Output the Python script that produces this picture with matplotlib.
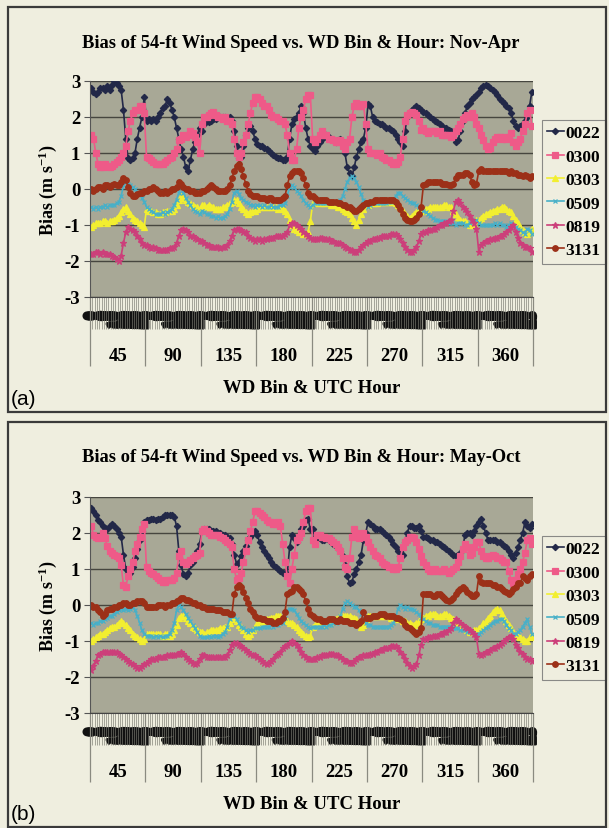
import matplotlib
matplotlib.use('Agg')
import matplotlib.pyplot as plt
import matplotlib.transforms as mtransforms
import matplotlib.patheffects as pe
from matplotlib.patches import Rectangle

plt.rcParams.update({
    'font.family': 'serif',
    'font.serif': ['Liberation Serif', 'DejaVu Serif'],
    'font.weight': 'bold',
    'axes.labelweight': 'bold',
    'axes.unicode_minus': False,
    'mathtext.fontset': 'custom',
    'mathtext.rm': 'Liberation Serif:bold',
    'mathtext.default': 'rm',
})

W, H = 609, 829
PAGE = '#efeedf'
PLOT_BG = '#a8a896'
GRID = '#46463f'
FRAME = '#3a3a3a'

WD_BINS = [45, 90, 135, 180, 225, 270, 315, 360]
HOURS = list(range(24))
SERIES = ['0022', '0300', '0303', '0509', '0819', '3131']
COLORS = ['#222848', '#ee5a88', '#f2ee30', '#48b0c8', '#cc3f7a', '#9c3018']
MARKERS = ['D', 's', '^', 'x', '*', 'o']
MSIZES = [3.2, 4.0, 4.0, 3.5, 5.0, 4.0]

# ---- Nov-Apr (panel a), 8 WD bins x 24 hours ----
nov_0022 = [
    2.8, 2.7, 2.65, 2.7, 2.8, 2.8, 2.75, 2.85, 2.75, 2.9, 3.0, 2.95, 2.85, 2.75, 2.2, 1.4, 0.85, 0.8, 0.85, 1.0, 1.4, 1.7, 2.0, 2.55,
    1.9, 1.95, 1.9, 1.95, 1.9, 2.0, 2.1, 2.25, 2.3, 2.5, 2.4, 2.2, 2.0, 1.7, 1.4, 1.1, 0.9, 0.6, 0.5, 0.8, 1.1, 1.3, 1.5, 1.7,
    1.6, 1.8, 1.9, 1.85, 1.9, 1.95, 1.95, 2.0, 2.0, 2.0, 2.0, 1.95, 2.0, 1.9, 1.6, 1.2, 0.85, 0.9, 1.2, 1.5, 1.7, 1.75, 1.6, 1.4,
    1.25, 1.2, 1.2, 1.15, 1.1, 1.05, 1.0, 0.95, 0.9, 0.85, 0.85, 0.8, 0.8, 0.9, 1.4, 1.8, 1.95, 2.0, 2.1, 2.3, 2.1, 1.7, 1.4, 1.2,
    1.1, 1.05, 1.2, 1.3, 1.4, 1.45, 1.5, 1.45, 1.4, 1.35, 1.3, 1.35, 1.4, 1.3, 1.0, 0.6, 0.45, 0.35, 0.6, 0.9, 1.1, 1.3, 1.4, 1.7,
    2.35, 2.3, 2.0, 1.9, 1.85, 1.8, 1.8, 1.75, 1.7, 1.7, 1.65, 1.6, 1.5, 1.4, 1.3, 1.2, 1.6, 2.0, 2.15, 2.2, 2.25, 2.3, 2.25, 2.2,
    2.15, 2.1, 2.05, 2.0, 1.95, 1.9, 1.85, 1.8, 1.75, 1.7, 1.7, 1.65, 1.6, 1.45, 1.3, 1.35, 1.6, 1.9, 2.1, 2.3, 2.4, 2.5, 2.55, 2.6,
    2.7, 2.8, 2.85, 2.9, 2.85, 2.8, 2.75, 2.7, 2.6, 2.5, 2.45, 2.4, 2.3, 2.25, 2.1, 1.9, 1.75, 1.7, 1.75, 1.8, 1.9, 2.0, 2.3, 2.7,
]
nov_0300 = [
    1.5, 1.4, 1.0, 0.7, 0.6, 0.6, 0.7, 0.65, 0.6, 0.65, 0.7, 0.75, 0.8, 0.9, 1.0, 1.2, 1.6, 1.9, 2.1, 2.2, 2.2, 2.3, 2.3, 2.1,
    0.9, 0.85, 0.8, 0.75, 0.7, 0.7, 0.7, 0.7, 0.75, 0.8, 0.85, 0.9, 1.0, 1.1, 1.35, 1.4, 1.5, 1.45, 1.5, 1.6, 1.55, 1.45, 1.3, 1.0,
    1.8, 2.0, 2.0, 2.05, 2.1, 2.15, 2.05, 2.0, 2.0, 1.95, 2.0, 1.9, 1.9, 1.8, 1.4, 1.0, 0.9, 1.0, 1.3, 1.5, 1.8, 2.1, 2.4, 2.55,
    2.55, 2.5, 2.4, 2.3, 2.3, 2.2, 2.05, 2.0, 2.0, 1.95, 1.9, 1.9, 1.8, 1.5, 1.0, 0.8, 0.8, 1.1, 1.7, 2.0, 2.2, 2.5, 2.6, 2.6,
    1.4, 1.3, 1.4, 1.5, 1.6, 1.5, 1.5, 1.4, 1.4, 1.35, 1.3, 1.3, 1.35, 1.2, 1.1, 1.3, 1.4, 2.0, 2.3, 2.4, 2.3, 2.3, 2.35, 1.8,
    1.1, 1.0, 1.0, 1.0, 0.95, 1.0, 0.9, 0.85, 0.8, 0.8, 0.75, 0.7, 0.7, 0.75, 0.9, 1.4, 1.9, 2.05, 2.1, 2.15, 2.1, 2.05, 1.9, 1.65,
    1.7, 1.6, 1.55, 1.6, 1.6, 1.6, 1.55, 1.6, 1.5, 1.5, 1.5, 1.5, 1.45, 1.5, 1.6, 1.7, 1.8, 1.95, 2.0, 2.05, 2.0, 2.1, 2.0, 1.8,
    1.7, 1.5, 1.35, 1.2, 1.1, 1.15, 1.3, 1.4, 1.45, 1.45, 1.4, 1.45, 1.4, 1.45, 1.55, 1.3, 1.2, 1.3, 1.4, 1.6, 1.8, 2.1, 2.2, 1.75,
]
nov_0303 = [
    -1.05, -1.0, -0.95, -0.95, -0.95, -0.9, -0.9, -0.95, -0.9, -0.9, -0.85, -0.8, -0.75, -0.65, -0.55, -0.5, -0.6, -0.7, -0.8, -0.85, -0.9, -0.95, -1.0, -1.05,
    -0.55, -0.6, -0.6, -0.65, -0.65, -0.7, -0.7, -0.65, -0.65, -0.6, -0.6, -0.6, -0.55, -0.45, -0.3, -0.2, -0.25, -0.3, -0.35, -0.4, -0.45, -0.5, -0.5, -0.55,
    -0.45, -0.45, -0.5, -0.45, -0.5, -0.5, -0.55, -0.55, -0.55, -0.5, -0.5, -0.45, -0.4, -0.35, -0.3, -0.3, -0.4, -0.5, -0.55, -0.65, -0.7, -0.65, -0.6, -0.6,
    -0.55, -0.5, -0.5, -0.5, -0.5, -0.5, -0.5, -0.5, -0.5, -0.55, -0.5, -0.55, -0.6, -0.7, -0.85, -1.0, -1.1, -1.15, -1.2, -1.2, -1.25, -1.25, -1.2, -0.9,
    -0.4, -0.4, -0.35, -0.4, -0.4, -0.4, -0.4, -0.4, -0.45, -0.45, -0.45, -0.5, -0.5, -0.55, -0.6, -0.65, -0.7, -0.8, -0.9, -1.0, -0.85, -0.7, -0.55, -0.45,
    -0.45, -0.4, -0.4, -0.4, -0.4, -0.35, -0.35, -0.35, -0.35, -0.35, -0.35, -0.35, -0.4, -0.45, -0.5, -0.6, -0.7, -0.75, -0.8, -0.75, -0.7, -0.65, -0.6, -0.6,
    -0.6, -0.55, -0.55, -0.5, -0.5, -0.5, -0.5, -0.5, -0.5, -0.45, -0.45, -0.5, -0.5, -0.6, -0.7, -0.8, -0.85, -0.9, -0.9, -0.95, -1.0, -1.0, -0.95, -0.85,
    -0.85, -0.8, -0.75, -0.7, -0.7, -0.65, -0.6, -0.6, -0.55, -0.55, -0.5, -0.5, -0.55, -0.6, -0.65, -0.75, -0.85, -0.95, -1.05, -1.15, -1.2, -1.25, -1.2, -1.1,
]
nov_0509 = [
    -0.5, -0.55, -0.5, -0.55, -0.5, -0.5, -0.45, -0.5, -0.45, -0.45, -0.45, -0.4, -0.35, -0.2, 0.1, 0.2, 0.15, 0.1, 0.05, 0.0, -0.1, -0.15, -0.25, -0.35,
    -0.5, -0.55, -0.6, -0.65, -0.7, -0.7, -0.7, -0.65, -0.7, -0.65, -0.6, -0.55, -0.45, -0.3, -0.1, 0.1, -0.1, -0.25, -0.35, -0.45, -0.55, -0.6, -0.65, -0.7,
    -0.6, -0.65, -0.7, -0.7, -0.75, -0.75, -0.8, -0.75, -0.8, -0.8, -0.75, -0.7, -0.55, -0.35, -0.1, -0.05, -0.15, -0.25, -0.3, -0.35, -0.4, -0.45, -0.45, -0.5,
    -0.45, -0.45, -0.5, -0.45, -0.5, -0.5, -0.45, -0.5, -0.5, -0.5, -0.45, -0.45, -0.4, -0.2, 0.05, 0.1, 0.05, -0.05, -0.1, -0.2, -0.3, -0.4, -0.45, -0.5,
    -0.45, -0.4, -0.4, -0.4, -0.4, -0.4, -0.4, -0.4, -0.4, -0.4, -0.35, -0.35, -0.3, -0.2, 0.0, 0.2, 0.3, 0.35, 0.3, 0.2, 0.05, -0.15, -0.3, -0.4,
    -0.5, -0.45, -0.4, -0.4, -0.4, -0.4, -0.4, -0.4, -0.4, -0.35, -0.35, -0.3, -0.2, -0.1, -0.1, -0.2, -0.25, -0.3, -0.35, -0.4, -0.4, -0.45, -0.5, -0.55,
    -0.6, -0.65, -0.7, -0.75, -0.8, -0.85, -0.85, -0.9, -0.9, -0.9, -0.9, -0.95, -0.95, -0.95, -1.0, -0.95, -0.95, -0.95, -1.0, -1.0, -0.95, -0.9, -0.9, -0.85,
    -0.95, -1.0, -1.0, -1.0, -1.0, -1.0, -1.0, -0.95, -1.0, -0.95, -1.0, -1.0, -1.05, -1.0, -0.95, -1.0, -1.05, -1.1, -1.15, -1.2, -1.25, -1.1, -1.15, -1.25,
]
nov_0819 = [
    -1.8, -1.8, -1.75, -1.75, -1.8, -1.75, -1.8, -1.8, -1.8, -1.85, -1.9, -1.95, -2.0, -1.85, -1.5, -1.2, -1.05, -1.1, -1.15, -1.2, -1.3, -1.4, -1.5, -1.55,
    -1.55, -1.6, -1.65, -1.6, -1.65, -1.7, -1.7, -1.7, -1.7, -1.7, -1.65, -1.65, -1.6, -1.5, -1.3, -1.15, -1.1, -1.15, -1.2, -1.3, -1.3, -1.35, -1.4, -1.45,
    -1.45, -1.5, -1.55, -1.55, -1.6, -1.6, -1.6, -1.6, -1.65, -1.6, -1.6, -1.55, -1.45, -1.3, -1.15, -1.1, -1.1, -1.15, -1.2, -1.2, -1.3, -1.35, -1.4, -1.45,
    -1.4, -1.4, -1.45, -1.4, -1.4, -1.35, -1.35, -1.35, -1.3, -1.3, -1.3, -1.3, -1.25, -1.2, -1.0, -0.95, -0.95, -1.0, -1.05, -1.1, -1.2, -1.25, -1.3, -1.35,
    -1.4, -1.4, -1.4, -1.35, -1.35, -1.4, -1.4, -1.4, -1.45, -1.45, -1.5, -1.5, -1.5, -1.55, -1.6, -1.65, -1.7, -1.7, -1.75, -1.75, -1.7, -1.6, -1.55, -1.5,
    -1.45, -1.45, -1.4, -1.4, -1.35, -1.35, -1.3, -1.3, -1.3, -1.3, -1.25, -1.25, -1.25, -1.3, -1.4, -1.5, -1.6, -1.7, -1.75, -1.75, -1.7, -1.6, -1.45, -1.25,
    -1.2, -1.2, -1.15, -1.15, -1.1, -1.1, -1.05, -1.0, -1.0, -0.95, -0.95, -0.9, -0.85, -0.6, -0.35, -0.3, -0.4, -0.5, -0.55, -0.65, -0.75, -0.85, -0.95, -1.1,
    -1.75, -1.55, -1.5, -1.45, -1.45, -1.4, -1.4, -1.35, -1.35, -1.3, -1.3, -1.25, -1.2, -1.15, -1.05, -1.0, -1.2, -1.35, -1.5, -1.55, -1.6, -1.6, -1.65, -1.75,
]
nov_3131 = [
    0.0, -0.05, 0.0, 0.05, 0.05, 0.0, 0.1, 0.1, 0.05, 0.1, 0.15, 0.1, 0.1, 0.2, 0.3, 0.25, 0.05, -0.1, -0.2, -0.2, -0.15, -0.1, -0.1, -0.05,
    -0.05, 0.0, 0.0, 0.05, 0.0, -0.05, -0.1, -0.1, -0.05, -0.1, -0.05, 0.0, 0.0, 0.05, 0.2, 0.15, 0.05, 0.0, 0.0, -0.05, -0.05, -0.1, -0.1, -0.1,
    -0.05, -0.05, 0.0, 0.05, 0.1, 0.05, 0.0, -0.05, -0.05, -0.05, -0.05, 0.0, 0.1, 0.3, 0.5, 0.65, 0.7, 0.55, 0.35, 0.15, -0.05, -0.15, -0.2, -0.2,
    -0.2, -0.25, -0.25, -0.25, -0.3, -0.25, -0.25, -0.3, -0.3, -0.3, -0.3, -0.25, -0.2, 0.1, 0.35, 0.45, 0.5, 0.5, 0.5, 0.45, 0.3, 0.1, -0.1, -0.2,
    -0.2, -0.25, -0.3, -0.3, -0.3, -0.3, -0.3, -0.35, -0.35, -0.35, -0.35, -0.4, -0.4, -0.45, -0.45, -0.5, -0.5, -0.55, -0.6, -0.6, -0.55, -0.5, -0.45, -0.4,
    -0.4, -0.35, -0.35, -0.3, -0.3, -0.3, -0.3, -0.3, -0.3, -0.3, -0.3, -0.3, -0.35, -0.45, -0.55, -0.7, -0.8, -0.85, -0.9, -0.9, -0.85, -0.8, -0.7, -0.5,
    0.1, 0.15, 0.2, 0.2, 0.2, 0.2, 0.2, 0.2, 0.15, 0.15, 0.15, 0.1, 0.1, 0.15, 0.3, 0.4, 0.4, 0.4, 0.45, 0.45, 0.4, 0.2, 0.1, 0.15,
    0.5, 0.55, 0.5, 0.5, 0.5, 0.5, 0.5, 0.5, 0.5, 0.5, 0.5, 0.5, 0.5, 0.45, 0.5, 0.45, 0.45, 0.4, 0.4, 0.35, 0.4, 0.35, 0.3, 0.35,
]

# ---- May-Oct (panel b) ----
may_0022 = [
    2.7, 2.6, 2.5, 2.35, 2.3, 2.2, 2.15, 2.1, 2.2, 2.25, 2.2, 2.1, 2.0, 1.9, 1.4, 1.0, 0.9, 0.9, 1.05, 1.3, 1.55, 1.8, 2.05, 2.3,
    2.35, 2.35, 2.4, 2.4, 2.35, 2.4, 2.4, 2.45, 2.5, 2.5, 2.5, 2.5, 2.45, 2.2, 1.5, 1.1, 0.85, 0.8, 0.9, 1.1, 1.2, 1.35, 1.5, 1.7,
    2.05, 2.1, 2.1, 2.1, 2.05, 2.05, 2.05, 2.0, 2.0, 1.95, 1.95, 1.9, 1.85, 1.7, 1.4, 1.15, 1.2, 1.35, 1.5, 1.65, 1.8, 1.9, 2.0, 2.05,
    1.95, 1.75, 1.6, 1.5, 1.4, 1.3, 1.2, 1.1, 1.05, 1.0, 0.95, 0.9, 0.9, 0.85, 1.6, 1.95, 1.85, 1.75, 1.85, 2.1, 2.2, 2.35, 2.4, 2.1,
    2.1, 1.9, 1.85, 1.85, 1.8, 1.8, 1.85, 1.8, 1.75, 1.7, 1.65, 1.6, 1.5, 1.35, 1.1, 0.8, 0.6, 0.65, 0.85, 1.0, 1.2, 1.4, 1.8, 2.0,
    2.3, 2.25, 2.2, 2.1, 2.1, 2.1, 2.05, 2.0, 1.95, 1.9, 1.8, 1.7, 1.6, 1.5, 1.35, 1.4, 1.75, 2.0, 2.2, 2.2, 2.15, 2.15, 2.2, 2.05,
    1.9, 1.9, 1.85, 1.8, 1.8, 1.75, 1.75, 1.7, 1.65, 1.6, 1.55, 1.5, 1.45, 1.4, 1.35, 1.4, 1.45, 1.55, 1.95, 2.0, 2.0, 1.95, 2.05, 2.2,
    2.3, 2.4, 2.2, 2.0, 1.8, 1.8, 1.8, 1.8, 1.75, 1.75, 1.7, 1.65, 1.6, 1.5, 1.4, 1.3, 1.45, 1.6, 1.8, 2.0, 2.3, 2.2, 2.15, 2.25,
]
may_0300 = [
    2.2, 1.95, 1.9, 1.85, 1.9, 2.0, 1.85, 1.65, 1.5, 1.45, 1.4, 1.35, 1.3, 1.1, 0.55, 0.5, 0.8, 1.0, 1.2, 1.5, 1.7, 1.9, 2.1, 2.25,
    1.05, 0.95, 0.9, 0.85, 0.8, 0.75, 0.7, 0.65, 0.65, 0.7, 0.7, 0.7, 0.75, 0.9, 1.35, 1.5, 1.2, 1.15, 1.2, 1.25, 1.3, 1.35, 1.4, 1.45,
    2.05, 2.1, 2.05, 2.0, 1.95, 1.95, 1.95, 1.95, 1.9, 1.85, 1.8, 1.75, 1.7, 1.6, 1.0, 0.7, 0.75, 0.9, 1.2, 1.5, 1.8, 2.05, 2.3, 2.6,
    2.6, 2.55, 2.5, 2.45, 2.35, 2.3, 2.3, 2.25, 2.25, 2.3, 2.2, 1.7, 1.2, 0.8, 0.6, 1.0, 1.4, 1.8, 1.9, 2.0, 2.3, 2.6, 2.7, 2.7,
    1.8, 1.7, 1.95, 1.95, 1.9, 1.9, 1.85, 1.85, 1.8, 1.75, 1.7, 1.6, 1.5, 1.3, 1.05, 1.0, 1.3, 1.9, 2.1, 2.0, 1.85, 1.9, 2.0, 1.9,
    1.75, 1.6, 1.5, 1.4, 1.35, 1.3, 1.2, 1.15, 1.1, 1.05, 1.05, 1.0, 1.0, 1.05, 1.3, 1.6, 1.75, 1.8, 1.9, 1.9, 1.85, 1.75, 1.55, 1.35,
    1.2, 1.1, 1.0, 0.95, 0.95, 1.0, 0.95, 0.95, 0.95, 1.0, 0.95, 0.9, 0.95, 1.0, 1.05, 1.2, 1.35, 1.55, 1.7, 1.6, 1.4, 1.45, 1.6, 1.75,
    1.75, 1.5, 1.35, 1.3, 1.3, 1.35, 1.4, 1.35, 1.3, 1.3, 1.25, 1.2, 1.2, 0.95, 0.7, 0.6, 0.7, 0.85, 1.0, 1.2, 1.45, 1.8, 1.85, 1.7,
]
may_0303 = [
    -1.0, -0.95, -0.9, -0.85, -0.8, -0.8, -0.75, -0.7, -0.65, -0.6, -0.6, -0.55, -0.5, -0.45, -0.5, -0.55, -0.65, -0.7, -0.8, -0.85, -0.9, -0.95, -1.0, -0.95,
    -0.8, -0.8, -0.8, -0.8, -0.8, -0.8, -0.8, -0.85, -0.8, -0.8, -0.85, -0.8, -0.7, -0.55, -0.35, -0.3, -0.3, -0.35, -0.45, -0.5, -0.6, -0.65, -0.7, -0.75,
    -0.75, -0.8, -0.75, -0.75, -0.7, -0.7, -0.7, -0.7, -0.65, -0.65, -0.6, -0.6, -0.5, -0.4, -0.35, -0.45, -0.55, -0.6, -0.7, -0.8, -0.85, -0.8, -0.7, -0.6,
    -0.5, -0.5, -0.45, -0.45, -0.4, -0.4, -0.35, -0.35, -0.3, -0.3, -0.3, -0.35, -0.4, -0.45, -0.5, -0.5, -0.55, -0.6, -0.7, -0.75, -0.8, -0.85, -0.9, -0.85,
    -0.6, -0.55, -0.5, -0.5, -0.5, -0.5, -0.5, -0.5, -0.45, -0.45, -0.4, -0.35, -0.3, -0.3, -0.3, -0.3, -0.3, -0.35, -0.35, -0.4, -0.5, -0.6, -0.55, -0.4,
    -0.3, -0.3, -0.3, -0.3, -0.3, -0.3, -0.3, -0.3, -0.3, -0.3, -0.35, -0.35, -0.35, -0.4, -0.4, -0.45, -0.45, -0.5, -0.5, -0.55, -0.55, -0.5, -0.45, -0.4,
    -0.35, -0.3, -0.3, -0.25, -0.25, -0.25, -0.3, -0.3, -0.3, -0.25, -0.25, -0.3, -0.35, -0.4, -0.45, -0.5, -0.55, -0.6, -0.65, -0.7, -0.75, -0.75, -0.7, -0.7,
    -0.65, -0.6, -0.5, -0.45, -0.35, -0.3, -0.2, -0.15, -0.1, -0.15, -0.25, -0.35, -0.45, -0.55, -0.65, -0.75, -0.8, -0.85, -0.9, -0.95, -1.0, -1.0, -0.9, -0.85,
]
may_0509 = [
    -0.5, -0.55, -0.5, -0.5, -0.45, -0.45, -0.4, -0.35, -0.3, -0.3, -0.25, -0.2, -0.15, -0.1, -0.15, -0.1, -0.15, -0.1, -0.05, -0.15, -0.3, -0.5, -0.7, -0.8,
    -0.85, -0.85, -0.85, -0.9, -0.85, -0.9, -0.85, -0.9, -0.85, -0.85, -0.8, -0.7, -0.5, -0.15, 0.0, -0.05, -0.15, -0.25, -0.35, -0.45, -0.55, -0.65, -0.75, -0.85,
    -0.9, -0.9, -0.9, -0.85, -0.9, -0.85, -0.85, -0.9, -0.85, -0.8, -0.75, -0.6, -0.4, -0.3, -0.3, -0.4, -0.5, -0.6, -0.65, -0.7, -0.75, -0.7, -0.7, -0.65,
    -0.65, -0.65, -0.6, -0.6, -0.6, -0.6, -0.55, -0.6, -0.55, -0.55, -0.5, -0.5, -0.35, -0.15, -0.1, -0.1, -0.15, -0.25, -0.35, -0.45, -0.5, -0.55, -0.6, -0.65,
    -0.6, -0.6, -0.6, -0.6, -0.6, -0.55, -0.6, -0.55, -0.55, -0.5, -0.5, -0.45, -0.3, -0.1, 0.05, 0.1, 0.05, 0.0, -0.05, -0.05, -0.15, -0.25, -0.4, -0.5,
    -0.55, -0.55, -0.6, -0.6, -0.6, -0.6, -0.6, -0.6, -0.6, -0.6, -0.55, -0.5, -0.35, -0.1, 0.0, -0.05, -0.1, -0.05, -0.1, -0.1, -0.15, -0.2, -0.25, -0.35,
    -0.4, -0.45, -0.5, -0.5, -0.55, -0.55, -0.55, -0.6, -0.6, -0.6, -0.6, -0.6, -0.6, -0.65, -0.65, -0.65, -0.7, -0.7, -0.7, -0.75, -0.75, -0.75, -0.8, -0.8,
    -0.8, -0.75, -0.7, -0.65, -0.6, -0.55, -0.5, -0.45, -0.45, -0.4, -0.4, -0.45, -0.55, -0.65, -0.7, -0.8, -0.8, -0.75, -0.7, -0.6, -0.5, -0.4, -0.6, -0.8,
]
may_0819 = [
    -1.8, -1.7, -1.55, -1.4, -1.35, -1.3, -1.3, -1.3, -1.3, -1.3, -1.3, -1.3, -1.35, -1.4, -1.45, -1.5, -1.55, -1.6, -1.65, -1.7, -1.75, -1.75, -1.7, -1.65,
    -1.6, -1.55, -1.5, -1.5, -1.5, -1.45, -1.45, -1.45, -1.45, -1.4, -1.4, -1.4, -1.4, -1.35, -1.35, -1.3, -1.35, -1.45, -1.5, -1.55, -1.6, -1.65, -1.6, -1.5,
    -1.4, -1.4, -1.45, -1.45, -1.45, -1.45, -1.45, -1.45, -1.45, -1.45, -1.45, -1.4, -1.25, -1.1, -1.05, -1.05, -1.1, -1.15, -1.2, -1.25, -1.3, -1.35, -1.4, -1.4,
    -1.45, -1.5, -1.55, -1.6, -1.65, -1.6, -1.55, -1.5, -1.4, -1.35, -1.3, -1.2, -1.15, -1.1, -1.05, -1.0, -1.05, -1.1, -1.2, -1.3, -1.4, -1.45, -1.5, -1.5,
    -1.5, -1.5, -1.45, -1.45, -1.4, -1.4, -1.4, -1.35, -1.35, -1.35, -1.4, -1.4, -1.45, -1.5, -1.55, -1.55, -1.6, -1.6, -1.55, -1.5, -1.45, -1.45, -1.4, -1.4,
    -1.4, -1.35, -1.35, -1.3, -1.3, -1.25, -1.25, -1.2, -1.2, -1.2, -1.15, -1.15, -1.15, -1.2, -1.3, -1.4, -1.5, -1.6, -1.7, -1.75, -1.7, -1.65, -1.4, -1.1,
    -0.95, -0.95, -0.9, -0.9, -0.85, -0.85, -0.85, -0.8, -0.8, -0.75, -0.75, -0.7, -0.65, -0.5, -0.4, -0.45, -0.5, -0.55, -0.6, -0.65, -0.7, -0.75, -0.8, -0.9,
    -1.35, -1.4, -1.35, -1.3, -1.3, -1.25, -1.2, -1.2, -1.15, -1.1, -1.05, -1.0, -0.95, -0.9, -0.85, -0.95, -1.1, -1.2, -1.3, -1.35, -1.45, -1.5, -1.5, -1.55,
]
may_3131 = [
    0.0, -0.05, -0.05, -0.15, -0.2, -0.3, -0.25, -0.15, -0.1, -0.1, -0.05, -0.05, 0.0, 0.0, 0.05, 0.05, 0.0, 0.0, 0.05, 0.05, 0.1, 0.1, 0.1, 0.05,
    -0.05, -0.05, -0.05, -0.05, -0.05, 0.0, 0.0, 0.0, -0.05, 0.0, 0.0, 0.05, 0.05, 0.1, 0.15, 0.2, 0.2, 0.15, 0.15, 0.1, 0.05, 0.05, 0.0, 0.0,
    -0.05, -0.05, -0.1, -0.1, -0.1, -0.1, -0.15, -0.15, -0.15, -0.2, -0.2, -0.2, -0.25, -0.25, 0.3, 0.5, 0.55, 0.5, 0.35, 0.2, 0.05, -0.1, -0.2, -0.3,
    -0.35, -0.35, -0.4, -0.4, -0.45, -0.45, -0.45, -0.5, -0.5, -0.45, -0.45, -0.35, -0.2, 0.3, 0.35, 0.4, 0.5, 0.5, 0.45, 0.4, 0.3, 0.1, -0.1, -0.25,
    -0.3, -0.35, -0.4, -0.4, -0.45, -0.45, -0.45, -0.4, -0.4, -0.4, -0.45, -0.45, -0.4, -0.45, -0.45, -0.45, -0.5, -0.5, -0.5, -0.55, -0.5, -0.45, -0.2, -0.35,
    -0.35, -0.35, -0.3, -0.3, -0.3, -0.25, -0.25, -0.25, -0.3, -0.3, -0.3, -0.3, -0.35, -0.35, -0.4, -0.45, -0.55, -0.6, -0.65, -0.7, -0.75, -0.8, -0.75, -0.65,
    0.3, 0.3, 0.3, 0.3, 0.25, 0.25, 0.3, 0.3, 0.25, 0.2, 0.15, 0.1, 0.15, 0.2, 0.3, 0.4, 0.45, 0.5, 0.45, 0.35, 0.3, 0.25, 0.25, 0.3,
    0.8, 0.65, 0.6, 0.6, 0.6, 0.6, 0.55, 0.55, 0.5, 0.5, 0.45, 0.4, 0.35, 0.3, 0.35, 0.45, 0.5, 0.6, 0.6, 0.8, 0.75, 0.7, 0.8, 0.85,
]

NOV = [nov_0022, nov_0300, nov_0303, nov_0509, nov_0819, nov_3131]
MAY = [may_0022, may_0300, may_0303, may_0509, may_0819, may_3131]


def fx(px):
    return px / W


def fy(py):
    return 1 - py / H


def draw_panel(fig, frame_top, plot_top, title, data, letter):
    # panel frame
    fig.add_artist(Rectangle((fx(8), fy(frame_top + 405)), fx(598), 405 / H,
                             transform=fig.transFigure, fill=False,
                             edgecolor=FRAME, linewidth=1.6))
    ax = fig.add_axes([fx(90), fy(plot_top + 216), fx(443), 216 / H])
    ax.set_facecolor(PLOT_BG)
    n = len(WD_BINS) * len(HOURS)
    x = list(range(n))
    for vals, name, c, m, ms in zip(data, SERIES, COLORS, MARKERS, MSIZES):
        ax.plot(x, vals, color=c, marker=m, markersize=ms, markeredgewidth=0.9,
                linewidth=1.2, label=name)
    ax.set_xlim(-0.5, n - 0.5)
    ax.set_ylim(-3, 3)
    ax.set_yticks(range(-3, 4))
    ax.yaxis.grid(True, color=GRID, linewidth=1.0)
    ax.set_axisbelow(True)
    for s in ['top', 'right']:
        ax.spines[s].set_visible(False)
    ax.spines['left'].set_color('#555555')
    ax.spines['bottom'].set_color('#444444')
    ax.tick_params(axis='y', length=4, width=0.8, color='#555555', labelsize=13.5, pad=3)

    # inner category level: UTC hour labels (dense, overprinted)
    ax.set_xticks(x)
    ax.set_xticklabels([str(h) for h in HOURS] * len(WD_BINS), rotation=90,
                       fontsize=12.5, fontweight='bold', color='#111111')
    ax.tick_params(axis='x', length=0, pad=10.5)
    for lab in ax.get_xticklabels():
        lab.set_path_effects([pe.withStroke(linewidth=1.6, foreground='#111111')])
    trans = mtransforms.blended_transform_factory(ax.transData, ax.transAxes)
    ax.vlines([i - 0.5 for i in range(n + 1)], -0.15, 0, transform=trans,
              colors='#7a7a70', linewidth=0.45, clip_on=False, zorder=1)
    # outer category level: WD bins
    ax.vlines([b * 24 - 0.5 for b in range(len(WD_BINS) + 1)], -0.32, 0,
              transform=trans, colors='#8a8a80', linewidth=0.9, clip_on=False)
    for b, wd in enumerate(WD_BINS):
        ax.text(b * 24 + 11.5, -0.273, str(wd), transform=trans, ha='center',
                va='center', fontsize=13.5, fontweight='bold')
    ax.text(0.5, -0.418, 'WD Bin & UTC Hour', transform=ax.transAxes,
            ha='center', va='center', fontsize=13.5, fontweight='bold')
    ax.set_ylabel('Bias (m s$^{-1}$)', fontsize=13, fontweight='bold', labelpad=4)

    fig.text(fx(301), fy(frame_top + 35), title, ha='center', va='center',
             fontsize=13.3, fontweight='bold')
    fig.text(fx(11), fy(frame_top + 392), letter, ha='left', va='center',
             fontsize=15, fontweight='normal', family='Liberation Sans')

    leg = ax.legend(loc='upper left', bbox_to_anchor=(1.02, 0.82),
                    borderaxespad=0, fontsize=12.5, frameon=True, fancybox=False,
                    handlelength=0.95, handletextpad=0.12, labelspacing=0.42,
                    borderpad=0.3)
    leg.get_frame().set_edgecolor('#707070')
    leg.get_frame().set_facecolor(PAGE)
    leg.get_frame().set_linewidth(0.8)
    return ax


fig = plt.figure(figsize=(W / 100, H / 100), dpi=100)
fig.patch.set_facecolor(PAGE)

draw_panel(fig, 8, 82, 'Bias of 54-ft Wind Speed vs. WD Bin & Hour: Nov-Apr', NOV, '(a)')
draw_panel(fig, 423, 498, 'Bias of 54-ft Wind Speed vs. WD Bin & Hour: May-Oct', MAY, '(b)')

fig.savefig('out.png', dpi=100, facecolor=PAGE)
